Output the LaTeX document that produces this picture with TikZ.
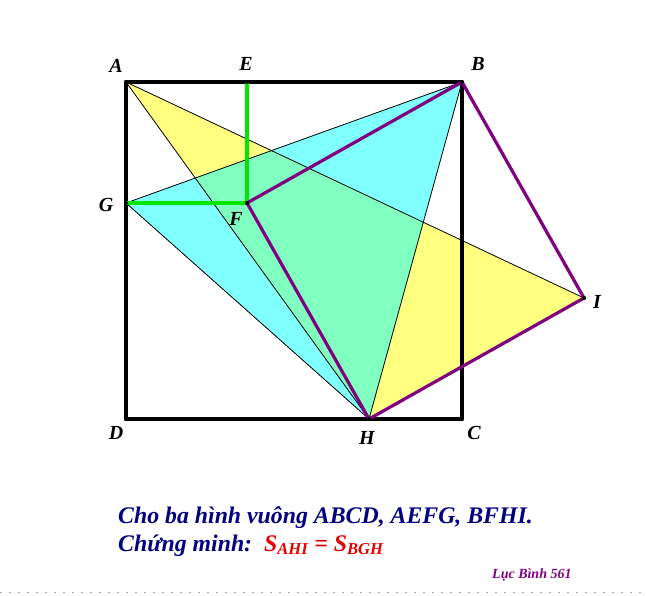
\documentclass[tikz,border=0pt]{standalone}
\usepackage{fontspec}
\setmainfont{Liberation Serif}
\definecolor{pyellow}{RGB}{255,255,128}
\definecolor{pcyan}{RGB}{128,255,255}
\definecolor{pmint}{RGB}{128,255,192}
\definecolor{pgreen}{RGB}{0,230,0}
\definecolor{ppurple}{RGB}{128,0,128}
\definecolor{pnavy}{RGB}{0,0,128}
\definecolor{pred}{RGB}{230,0,0}
\begin{document}
\begin{tikzpicture}[x=1pt,y=-1pt,line join=round]
	\tikzstyle{lbl}=[font=\fontsize{20}{22}\selectfont\bfseries\itshape,inner sep=0pt]
	\tikzstyle{pt}=[circle,fill=black,minimum size=4pt,inner sep=0pt]
	\useasboundingbox (0,0) rectangle (646,596);
	\node[pt] (A) at (126, 82) {};
	\node[pt] (B) at (462, 82) {};
	\node[pt] (C) at (462,419) {};
	\node[pt] (D) at (126,419) {};
	\node[pt] (E) at (247, 82) {};
	\node[pt] (F) at (247,203) {};
	\node[pt] (G) at (126,203) {};
	\node[pt] (H) at (369,419) {};
	\node[pt] (I) at (584,298) {};

	% the two triangles
	\fill[pyellow] (A.center) -- (H.center) -- (I.center) -- cycle;
	\fill[pcyan] (B.center) -- (G.center) -- (H.center) -- cycle;
	\begin{scope}
		\clip (A.center) -- (H.center) -- (I.center) -- cycle;
		\fill[pmint] (B.center) -- (G.center) -- (H.center) -- cycle;
	\end{scope}
	\draw[line width=0.8pt] (A.center) -- (H.center) -- (I.center) -- cycle;
	\draw[line width=0.8pt] (B.center) -- (G.center) -- (H.center) -- cycle;

	% squares
	\draw[line width=3.2pt] (A.center) -- (B.center) -- (C.center) -- (D.center) -- cycle;
	\draw[pgreen,line width=3.2pt] (E.center) -- (F.center) -- (G.center);
	\draw[ppurple,line width=3.2pt] (B.center) -- (F.center) -- (H.center) -- (I.center) -- cycle;
	\foreach \p in {A,B,C,D,E,F,G,H,I} \node[pt] at (\p) {};

	% labels
	\node[lbl] (lA) at (116, 66) {A};
	\node[lbl] (lE) at (246, 64) {E};
	\node[lbl] (lB) at (478, 64) {B};
	\node[lbl] (lG) at (106,205) {G};
	\node[lbl] (lF) at (236,219) {F};
	\node[lbl] (lI) at (597,302) {I};
	\node[lbl] (lD) at (116,433) {D};
	\node[lbl] (lH) at (367,438) {H};
	\node[lbl] (lC) at (474,433) {C};

	% text
	\node[anchor=base west,inner sep=0pt,text=pnavy,font=\fontsize{23.8}{26}\selectfont\bfseries\itshape] (t1) at (118,523)
		{Cho ba hình vuông ABCD, AEFG, BFHI.};
	\node[anchor=base west,inner sep=0pt,text=pnavy,font=\fontsize{23.8}{26}\selectfont\bfseries\itshape] (t2) at (118,551)
		{Chứng minh:\ \ \textcolor{pred}{S\textsubscript{AHI} = S\textsubscript{BGH}}};
	\node[anchor=base west,inner sep=0pt,text=ppurple,font=\fontsize{14}{16}\selectfont\bfseries\itshape] (sig) at (492,578)
		{Lục Bình 561};
	\draw[gray!70,line width=1pt,dash pattern=on 2pt off 7pt] (0,592) -- (646,592);
\end{tikzpicture}
\end{document}
